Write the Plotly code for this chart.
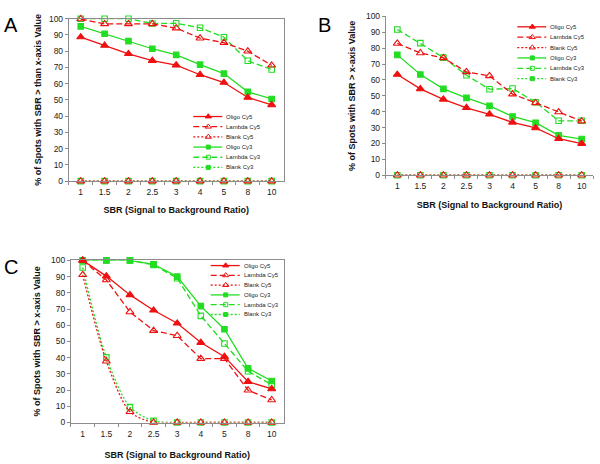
import plotly.graph_objects as go

# ---------------- data ----------------
sbr = ["1", "1.5", "2", "2.5", "3", "4", "5", "8", "10"]
series_names = ["Oligo Cy5", "Lambda Cy5", "Blank Cy5", "Oligo Cy3", "Lambda Cy3", "Blank Cy3"]

a_oligo_cy5 = [88.7, 83.5, 78.4, 74.2, 71.4, 65.5, 60.7, 51.5, 46.9]
a_lambda_cy5 = [99.8, 96.8, 96.8, 96.8, 94.2, 88.0, 85.3, 80.0, 71.3]
a_blank_cy5 = [0, 0, 0, 0, 0, 0, 0, 0, 0]
a_oligo_cy3 = [95.3, 90.7, 86.2, 81.5, 77.7, 71.7, 66.2, 55.0, 50.6]
a_lambda_cy3 = [100, 100, 100, 97.0, 97.2, 94.4, 88.6, 74.1, 68.7]
a_blank_cy3 = [0, 0, 0, 0, 0, 0, 0, 0, 0]

b_oligo_cy5 = [63.4, 54.4, 47.8, 42.5, 38.4, 33.3, 29.8, 23.0, 19.9]
b_lambda_cy5 = [83.0, 77.0, 73.9, 65.1, 62.6, 51.1, 45.6, 39.8, 34.1]
b_blank_cy5 = [0, 0, 0, 0, 0, 0, 0, 0, 0]
b_oligo_cy3 = [75.8, 63.4, 54.4, 48.7, 43.7, 37.0, 33.1, 25.1, 22.8]
b_lambda_cy3 = [91.8, 83.2, 74.1, 63.0, 54.2, 54.6, 46.0, 34.3, 34.3]
b_blank_cy3 = [0, 0, 0, 0, 0, 0, 0, 0, 0]

c_oligo_cy5 = [100, 90.3, 78.7, 69.2, 61.2, 49.3, 40.6, 25.2, 20.7]
c_lambda_cy5 = [100, 87.9, 68.2, 56.7, 53.5, 39.4, 39.4, 19.9, 13.9]
c_blank_cy5 = [91.1, 37.8, 6.6, 0, 0, 0, 0, 0, 0]
c_oligo_cy3 = [100, 100, 100, 97.6, 90.0, 71.8, 57.5, 33.4, 25.6]
c_lambda_cy3 = [100, 100, 100, 97.2, 89.0, 65.8, 48.7, 31.6, 23.3]
c_blank_cy3 = [95.6, 40.2, 9.5, 1.0, 0, 0, 0, 0, 0]

panel_letters = ["A", "B", "C"]
x_title = "SBR (Signal to Background Ratio)"
y_titles = ["% of Spots with SBR > than x-axis Value",
            "% of Spots with SBR > x-axis Value",
            "% of Spots with SBR > x-axis Value"]

panels = [
    [a_oligo_cy5, a_lambda_cy5, a_blank_cy5, a_oligo_cy3, a_lambda_cy3, a_blank_cy3],
    [b_oligo_cy5, b_lambda_cy5, b_blank_cy5, b_oligo_cy3, b_lambda_cy3, b_blank_cy3],
    [c_oligo_cy5, c_lambda_cy5, c_blank_cy5, c_oligo_cy3, c_lambda_cy3, c_blank_cy3],
]

# ---------------- styles ----------------
W, H = 600, 464
RED = "#EE1111"
GREEN = "#22DD22"
FONT = "Liberation Sans, Arial, sans-serif"
AXC = "#8C8C8C"
CLEAR = "rgba(0,0,0,0)"

styles = {
    "Oligo Cy5": dict(color=RED, dash="solid", symbol="triangle-up"),
    "Lambda Cy5": dict(color=RED, dash="6px,3px", symbol="triangle-up-open"),
    "Blank Cy5": dict(color=RED, dash="2px,2px", symbol="triangle-up-open"),
    "Oligo Cy3": dict(color=GREEN, dash="solid", symbol="square"),
    "Lambda Cy3": dict(color=GREEN, dash="6px,3px", symbol="square-open"),
    "Blank Cy3": dict(color=GREEN, dash="2px,2px", symbol="square-open"),
}
draw_order = [3, 4, 5, 0, 1, 2]

# pixel layout of the plot boxes: (left, right, y_at_0, y_at_100)
boxes = [(68.8, 283.6, 180.0, 14.0),
         (385.8, 593.2, 174.0, 11.7),
         (70.9, 283.5, 426.7, 261.0)]
x_title_standoff = [10, 11, 13]
y_title_standoff = [5, 8, 8]
letter_pos = [(11, 20), (324, 20), (11, 268)]
legend_pos = [(193.3, 114.0, 10.4), (517.3, 22.3, 10.6), (210.7, 266.3, 10.0)]  # x start, first row y, row step

fig = go.Figure()

for p, series in enumerate(panels):
    xa = "x" if p == 0 else f"x{p+1}"
    ya = "y" if p == 0 else f"y{p+1}"
    for i in draw_order:
        name = series_names[i]
        st = styles[name]
        shape = "spline" if (p == 2 and name.startswith("Blank")) else "linear"
        fig.add_trace(go.Scatter(
            x=sbr, y=series[i], name=name, xaxis=xa, yaxis=ya,
            mode="lines+markers", showlegend=False, cliponaxis=False,
            line=dict(color=st["color"], width=1.3, dash=st["dash"], shape=shape, smoothing=0.8),
            marker=dict(symbol=st["symbol"], size=7 if "triangle" in st["symbol"] else 5.5,
                        color=st["color"], line=dict(color=st["color"], width=1.1)),
        ))

    left, right, y0, y100 = boxes[p]
    dom_x = [left / W, right / W]
    dom_y = [1 - y0 / H, 1 - y100 / H]
    xkey = "xaxis" if p == 0 else f"xaxis{p+1}"
    ykey = "yaxis" if p == 0 else f"yaxis{p+1}"
    fig.update_layout(**{
        xkey: dict(domain=dom_x, anchor=ya, type="category", range=[-0.5, len(sbr) - 0.5],
                   showline=True, linecolor=AXC, linewidth=1, mirror=(p != 1),
                   ticks="outside", tickson="boundaries", ticklen=3, tickcolor=AXC,
                   ticklabelstandoff=3,
                   tickfont=dict(family=FONT, size=8.5, color="#222"),
                   showgrid=False, zeroline=False,
                   title=dict(text=f"<b>{x_title}</b>", font=dict(family=FONT, size=9, color="#111"),
                              standoff=x_title_standoff[p])),
        ykey: dict(domain=dom_y, anchor=xa, range=[0, 100], dtick=10,
                   showline=True, linecolor=AXC, linewidth=1, mirror=(p != 1),
                   ticks="outside", ticklen=3, tickcolor=AXC,
                   tickfont=dict(family=FONT, size=8.5, color="#222"),
                   showgrid=False, zeroline=False,
                   title=dict(text=f"<b>{y_titles[p]}</b>", font=dict(family=FONT, size=9, color="#111"),
                              standoff=y_title_standoff[p])),
    })

    # panel letter
    lx, ly = letter_pos[p]
    fig.add_annotation(x=lx / W, y=1 - ly / H, xref="paper", yref="paper", text=panel_letters[p],
                       showarrow=False, font=dict(family=FONT, size=20, color="#000"),
                       xanchor="center", yanchor="middle")

    # custom compact legend (drawn on an invisible, transparent pixel overlay axis)
    gx, gy, step = legend_pos[p]
    for k, name in enumerate(series_names):
        st = styles[name]
        ry = gy + k * step
        fig.add_trace(go.Scatter(
            x=[gx, gx + 29], y=[ry, ry], xaxis="x4", yaxis="y4", mode="lines", showlegend=False,
            hoverinfo="skip", line=dict(color=st["color"], width=1.3, dash=st["dash"])))
        fig.add_trace(go.Scatter(
            x=[gx + 15], y=[ry], xaxis="x4", yaxis="y4", mode="markers", showlegend=False,
            hoverinfo="skip",
            marker=dict(symbol=st["symbol"] if name != "Blank Cy3" else "square",
                        size=5.5 if "triangle" in st["symbol"] else 4,
                        color=st["color"], line=dict(color=st["color"], width=1))))
        fig.add_annotation(x=gx + 31, y=ry, xref="x4", yref="y4", text=name, showarrow=False,
                           xanchor="left", yanchor="middle",
                           font=dict(family=FONT, size=6, color="#222"))

fig.update_layout(
    xaxis4=dict(domain=[0, 1], range=[0, W], visible=False, anchor="y4", fixedrange=True),
    yaxis4=dict(domain=[0, 1], range=[H, 0], visible=False, anchor="x4", fixedrange=True),
    width=W, height=H, margin=dict(l=0, r=0, t=0, b=0),
    paper_bgcolor="white", plot_bgcolor=CLEAR, showlegend=False, hovermode=False,
    font=dict(family=FONT),
)

# the page's default 8px body margin would shift the figure; remove it
fig.write_html("out.html", config={"displayModeBar": False},
               post_script="document.body.style.margin='0';")
